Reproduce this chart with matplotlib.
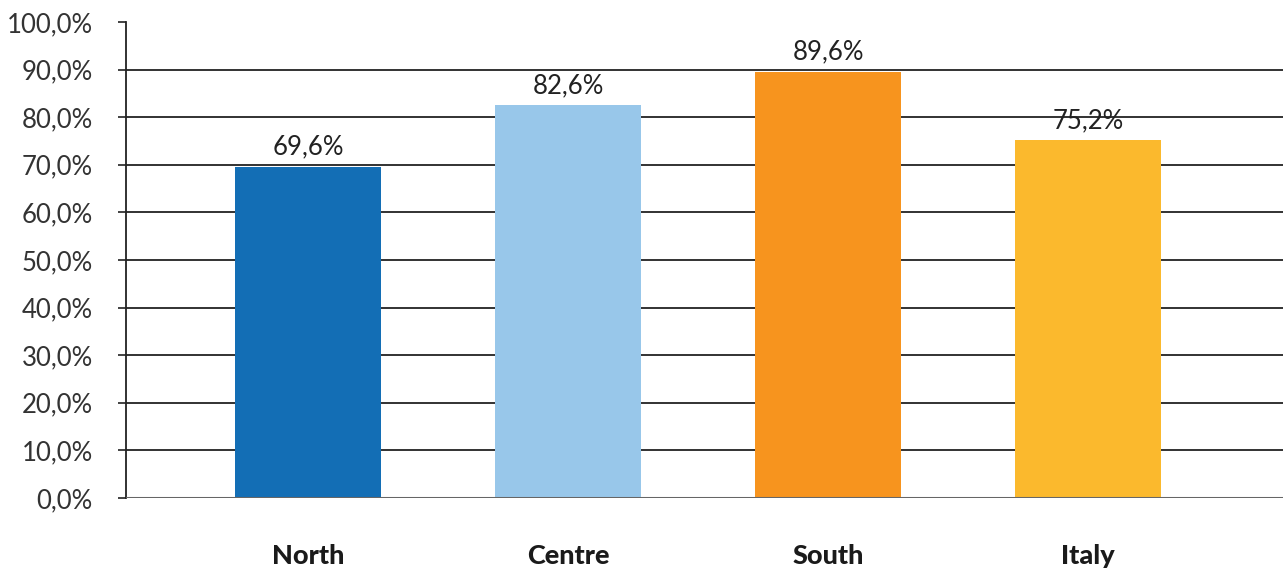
import matplotlib
matplotlib.use("Agg")
import matplotlib.pyplot as plt
from matplotlib.ticker import FuncFormatter

# Dati
categories = ["North", "Centre", "South", "Italy"]
values = [69.6, 82.6, 89.6, 75.2]
colors = ["#136EB5", "#98C7EA", "#F7941E", "#FBB92D"]
yticks = [0, 10, 20, 30, 40, 50, 60, 70, 80, 90, 100]

plt.rcParams["font.family"] = ["Lato", "DejaVu Sans"]

fig = plt.figure(figsize=(12.83, 5.69), dpi=100)
ax = fig.add_axes([126 / 1283, 1 - 498 / 569, (1283 - 126) / 1283, (498 - 22) / 569])

x = list(range(len(categories)))

# Griglia orizzontale (senza la linea del 100%)
for t in yticks[1:-1]:
    ax.axhline(t, color="#222222", linewidth=1.3, zorder=1)
ax.axhline(0, color="#666666", linewidth=2.2, zorder=3)

ax.bar(x, values, width=0.56, color=colors, zorder=2)

for xi, v in zip(x, values):
    ax.annotate(
        f"{v:.1f}%".replace(".", ","),
        (xi, v),
        xytext=(0, 5),
        textcoords="offset points",
        ha="center",
        va="bottom",
        fontsize=18.5,
        color="#222222",
    )

ax.set_xlim(-0.7, 3.75)
ax.set_ylim(0, 100)
ax.set_yticks(yticks)
ax.yaxis.set_major_formatter(FuncFormatter(lambda v, p: f"{v:.1f}%".replace(".", ",")))
ax.tick_params(axis="y", length=6, width=1.2, color="#222222", labelsize=18.5,
               labelcolor="#333333", pad=18)

ax.set_xticks(x)
ax.set_xticklabels(categories, fontsize=19.5, fontweight="black", color="#1a1a1a")
ax.tick_params(axis="x", length=0, pad=33)

for s in ["top", "right", "bottom"]:
    ax.spines[s].set_visible(False)
ax.spines["left"].set_color("#222222")
ax.spines["left"].set_linewidth(1.3)

fig.savefig("out.png", dpi=100, facecolor="white")
